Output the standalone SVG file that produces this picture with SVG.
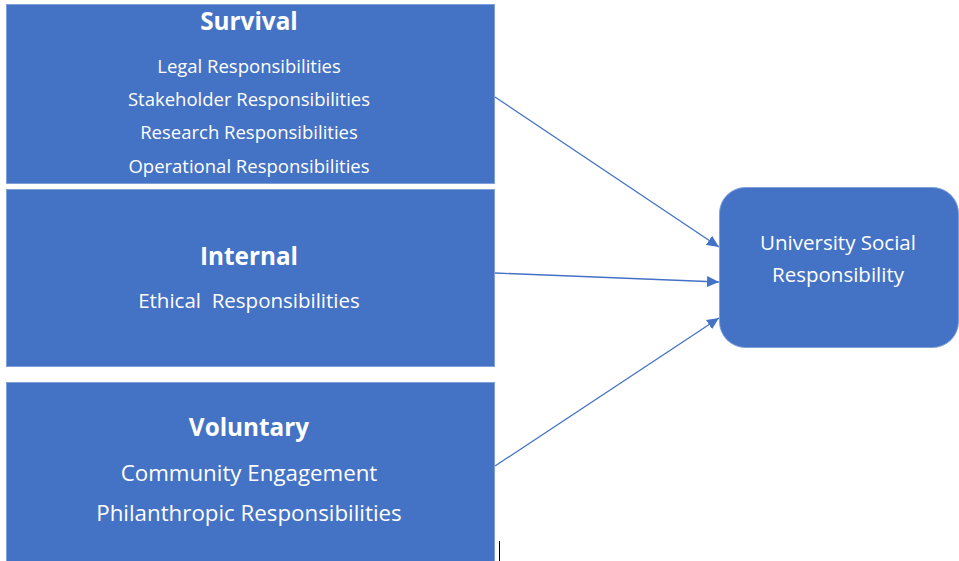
<svg xmlns="http://www.w3.org/2000/svg" width="959" height="561" viewBox="0 0 959 561">
  <defs>
    <marker id="arrow" viewBox="0 0 12 11" refX="12" refY="5.5" markerWidth="12" markerHeight="11" markerUnits="userSpaceOnUse" orient="auto">
      <path d="M0,0 L12,5.5 L0,11 z" fill="#4472C4"/>
    </marker>
    <style>
      .box { fill: #4472C4; stroke: #7f9fd9; stroke-width: 1; }
      .title { font-family: "Open Sans", "Noto Sans", sans-serif; font-weight: bold; font-size: 24.3px; fill: #ffffff; text-anchor: middle; }
      .item { font-family: "Open Sans", "Noto Sans", sans-serif; fill: #ffffff; text-anchor: middle; white-space: pre; }
      .link { stroke: #4472C4; stroke-width: 1.3; fill: none; marker-end: url(#arrow); }
    </style>
  </defs>
  <rect width="959" height="561" fill="#ffffff"/>

  <!-- Survival tier -->
  <g id="survival">
    <rect class="box" x="6.5" y="4.5" width="488" height="179"/>
    <text class="title" x="249" y="30">Survival</text>
    <text class="item" x="249" y="72.5" font-size="18.5">Legal Responsibilities</text>
    <text class="item" x="249" y="105.5" font-size="18.5">Stakeholder Responsibilities</text>
    <text class="item" x="249" y="138.5" font-size="18.5">Research Responsibilities</text>
    <text class="item" x="249" y="172.5" font-size="18.5">Operational Responsibilities</text>
  </g>

  <!-- Internal tier -->
  <g id="internal">
    <rect class="box" x="6.5" y="189.5" width="488" height="177"/>
    <text class="title" x="249" y="265">Internal</text>
    <text class="item" x="249" y="308" font-size="20.5" xml:space="preserve">Ethical  Responsibilities</text>
  </g>

  <!-- Voluntary tier -->
  <g id="voluntary">
    <rect class="box" x="6.5" y="382.5" width="488" height="190"/>
    <text class="title" x="249" y="436">Voluntary</text>
    <text class="item" x="249" y="481" font-size="22.3">Community Engagement</text>
    <text class="item" x="249" y="521" font-size="22.3">Philanthropic Responsibilities</text>
  </g>

  <!-- Outcome -->
  <g id="usr">
    <rect class="box" x="719.5" y="187.5" width="239" height="160" rx="26" ry="26"/>
    <text class="item" x="838" y="250" font-size="20.5">University Social</text>
    <text class="item" x="838" y="282" font-size="20.5">Responsibility</text>
  </g>

  <!-- Connectors -->
  <g id="connectors">
    <line class="link" x1="495" y1="97" x2="719" y2="247"/>
    <line class="link" x1="495" y1="273" x2="719" y2="282"/>
    <line class="link" x1="495" y1="466" x2="719" y2="318"/>
  </g>

  <!-- text cursor mark -->
  <line x1="499.5" y1="541" x2="499.5" y2="561" stroke="#000000" stroke-width="1"/>
</svg>
